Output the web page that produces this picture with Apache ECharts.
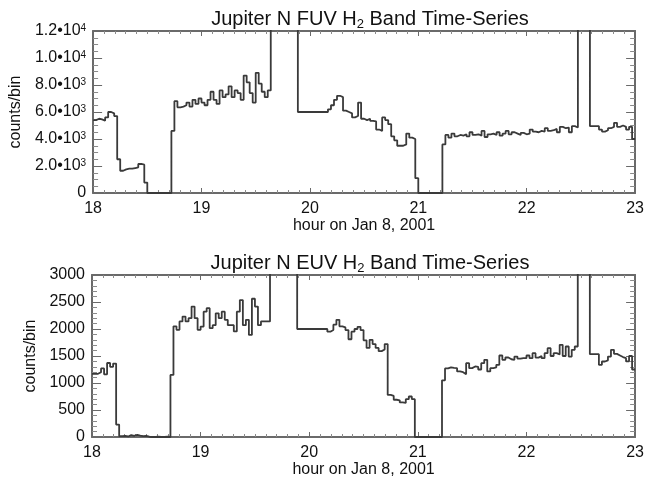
<!DOCTYPE html>
<html>
<head>
<meta charset="utf-8">
<script src="https://cdn.jsdelivr.net/npm/echarts@6/dist/echarts.min.js"></script>
<style>
html,body{margin:0;padding:0;background:#fff;}
#chart{width:647px;height:479px;}
</style>
</head>
<body>
<div id="chart"></div>
<script>
// Bin layout: 100-second bins starting at 18:00
const startHour = 18;
const binHours = 100 / 3600;
const endHour = 23;

const fuvTitle = 'Jupiter N FUV H{sub|2} Band Time-Series';
const euvTitle = 'Jupiter N EUV H{sub|2} Band Time-Series';
const xAxisTitle = 'hour on Jan 8, 2001';
const yAxisTitle = 'counts/bin';

// FUV counts per bin (values above 12000 run off the top of the plot)
const fuvCounts = [
  5400, 5500, 5450, 5350, 5600, 6000, 5900, 5700, 2500, 1650,
  1750, 1800, 1800, 1850, 1900, 2150, 2100, 770, 0, 0,
  0, 0, 0, 0, 0, 0, 4600, 6800, 6350, 6400,
  6500, 6700, 6400, 6900, 6600, 7000, 6700, 6500, 6900, 7500,
  6900, 6600, 7600, 7100, 7300, 7900, 7100, 7600, 7400, 6900,
  8700, 8200, 7400, 6700, 8900, 8100, 7500, 7100, 7600, 25000,
  25000, 25000, 25000, 25000, 25000, 25000, 25000, 25000, 6000, 6000,
  6000, 6000, 6000, 6000, 6000, 6000, 6000, 6000, 6200, 6500,
  6900, 7200, 7100, 6100, 6000, 5900, 5600, 5700, 6700, 5500,
  5400, 5500, 5350, 5300, 4700, 4600, 5600, 5400, 5100, 4200,
  3900, 3500, 3500, 3600, 4400, 4100, 4000, 1100, 0, 0,
  0, 0, 0, 0, 0, 0, 3600, 4300, 4100, 4400,
  4200, 4300, 4250, 4350, 4200, 4500, 4300, 4350, 4250, 4600,
  4150, 4350, 4400, 4300, 4500, 4250, 4400, 4600, 4350, 4500,
  4400, 4300, 4450, 4350, 4400, 4700, 4550, 4500, 4600, 4550,
  4800, 4600, 4650, 4750, 4500, 4900, 4800, 4850, 4500, 4950,
  4850, 25000, 25000, 25000, 25000, 4950, 4950, 4950, 4700, 4550,
  4650, 4800, 4900, 5200, 4900, 5000, 4900, 4700, 4900, 4000
];

// EUV counts per bin (values above 3000 run off the top of the plot)
const euvCounts = [
  1170, 1170, 1200, 1270, 1160, 1370, 1300, 1360, 230, 15,
  20, 10, 35, 20, 40, 25, 15, 20, 5, 0,
  0, 5, 0, 0, 5, 0, 1150, 2050, 1985, 2140,
  2230, 2140, 2200, 2415, 2200, 1985, 2045, 2320, 2385, 2015,
  2070, 2290, 2200, 2320, 2170, 2070, 2070, 1955, 2320, 2535,
  2070, 2170, 1890, 2560, 2415, 2070, 2140, 2140, 2140, 8000,
  8000, 8000, 8000, 8000, 8000, 8000, 8000, 8000, 2000, 2000,
  2000, 2000, 2000, 2000, 2000, 2000, 2000, 2000, 1950, 1980,
  2080, 2170, 2050, 2030, 1980, 1810, 1950, 2000, 2040, 1980,
  1790, 1650, 1800, 1720, 1650, 1590, 1620, 1720, 780, 760,
  690, 680, 640, 630, 700, 750, 700, 0, 0, 0,
  0, 0, 0, 0, 0, 0, 1050, 1270, 1290, 1280,
  1275, 1214, 1200, 1164, 1368, 1275, 1306, 1300, 1250, 1368,
  1430, 1214, 1275, 1290, 1337, 1509, 1430, 1472, 1440, 1430,
  1490, 1450, 1460, 1460, 1509, 1460, 1552, 1470, 1500, 1460,
  1552, 1645, 1500, 1552, 1530, 1707, 1500, 1676, 1490, 1614,
  1676, 8000, 8000, 8000, 8000, 1534, 1534, 1534, 1337, 1398,
  1420, 1490, 1614, 1540, 1510, 1480, 1460, 1400, 1500, 1250
];

const fuvTicks = { min: 0, max: 12000, interval: 2000 };
const euvTicks = { min: 0, max: 3000, interval: 500 };
const hourTicks = { min: 18, max: 23, interval: 1 };

function toSteps(counts) {
  const pts = counts.map((v, i) => [startHour + i * binHours, v]);
  pts.push([endHour, counts[counts.length - 1]]);
  return pts;
}

const FONT = 'Liberation Sans';
const AX = '#6a6a6a';
const LINE = '#3a3a3a';

function sciLabel(v) {
  if (v === 0) return '0';
  const e = Math.floor(Math.log10(v) + 1e-9);
  const m = v / Math.pow(10, e);
  return m.toFixed(1) + '\u2022' + '10{sup|' + e + '}';
}

function xAxes(grid) {
  const common = {
    type: 'value', gridIndex: grid, min: hourTicks.min, max: hourTicks.max, interval: hourTicks.interval,
    splitLine: { show: false },
    axisLine: { show: true, onZero: false, lineStyle: { color: AX, width: 2 } },
    axisTick: { show: true, inside: true, length: 5, lineStyle: { color: AX, width: 1 } },
    minorTick: { show: true, splitNumber: 10, length: 3, lineStyle: { color: '#8a8a8a', width: 1 } }
  };
  return [
    Object.assign({}, common, {
      position: 'bottom',
      axisLabel: { show: true, margin: 8, color: '#111', fontFamily: FONT, fontSize: 16 },
      name: xAxisTitle, nameLocation: 'middle', nameGap: 25,
      nameTextStyle: { color: '#111', fontFamily: FONT, fontSize: 16 }
    }),
    Object.assign({}, common, { position: 'top', axisLabel: { show: false } })
  ];
}

function yAxes(grid, ticks, fmt, minorSplit, nameGap) {
  const common = {
    type: 'value', gridIndex: grid, min: ticks.min, max: ticks.max, interval: ticks.interval,
    splitLine: { show: false },
    axisLine: { show: true, onZero: false, lineStyle: { color: AX, width: 2 } },
    axisTick: { show: true, inside: true, length: 9, lineStyle: { color: AX, width: 1 } },
    minorTick: { show: true, splitNumber: minorSplit, length: 5, lineStyle: { color: '#8a8a8a', width: 1 } }
  };
  return [
    Object.assign({}, common, {
      position: 'left',
      axisLabel: {
        show: true, margin: 7, color: '#111', fontFamily: FONT, fontSize: 16, formatter: fmt,
        rich: { sup: { fontSize: 10, lineHeight: 10, verticalAlign: 'top', fontFamily: FONT, color: '#111' } }
      },
      name: yAxisTitle, nameLocation: 'middle', nameRotate: 90, nameGap: nameGap,
      nameTextStyle: { color: '#111', fontFamily: FONT, fontSize: 16 }
    }),
    Object.assign({}, common, { position: 'right', axisLabel: { show: false } })
  ];
}

const titleRich = {
  sub: { fontSize: 13, lineHeight: 13, verticalAlign: 'bottom', fontFamily: FONT, color: '#111' }
};

const chart = echarts.init(document.getElementById('chart'), null, { renderer: 'canvas' });
chart.setOption({
  animation: false,
  backgroundColor: '#fff',
  title: [
    { text: fuvTitle, left: 365, top: 2, textAlign: 'center',
      textStyle: { fontFamily: FONT, fontSize: 20, fontWeight: 'normal', color: '#111', lineHeight: 24, rich: titleRich } },
    { text: euvTitle, left: 365, top: 246, textAlign: 'center',
      textStyle: { fontFamily: FONT, fontSize: 20, fontWeight: 'normal', color: '#111', lineHeight: 24, rich: titleRich } }
  ],
  grid: [
    { left: 92, top: 31, width: 547, height: 162 },
    { left: 92, top: 275, width: 547, height: 162 }
  ],
  xAxis: [].concat(xAxes(0), xAxes(1)),
  yAxis: [].concat(
    yAxes(0, fuvTicks, sciLabel, 4, 66),
    yAxes(1, euvTicks, v => String(v), 5, 52)
  ),
  series: [
    { type: 'line', xAxisIndex: 0, yAxisIndex: 0, data: toSteps(fuvCounts), step: 'end',
      showSymbol: false, clip: true, lineStyle: { color: LINE, width: 1.8 } },
    { type: 'line', xAxisIndex: 2, yAxisIndex: 2, data: toSteps(euvCounts), step: 'end',
      showSymbol: false, clip: true, lineStyle: { color: LINE, width: 1.8 } }
  ]
});
</script>
</body>
</html>
